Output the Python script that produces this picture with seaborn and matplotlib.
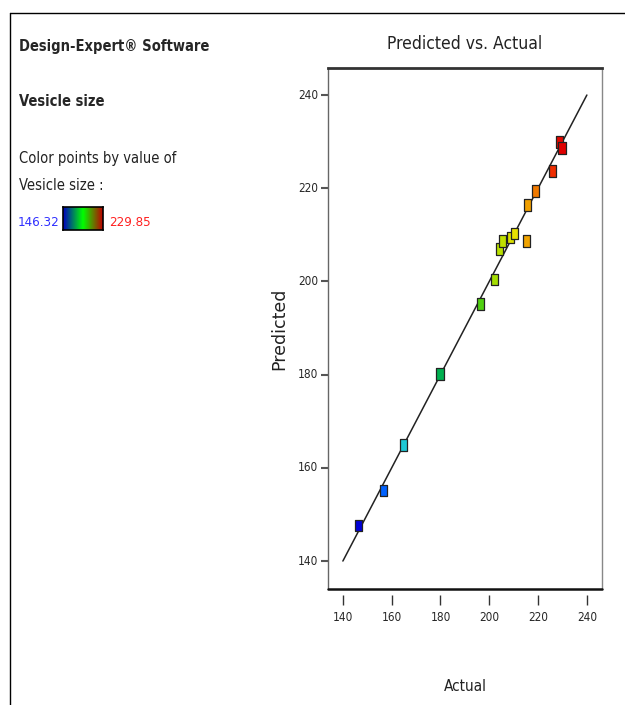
import numpy as np
import pandas as pd
import matplotlib
matplotlib.use("Agg")
import matplotlib.pyplot as plt
from matplotlib import font_manager as fm
from matplotlib.colors import LinearSegmentedColormap, Normalize
import seaborn as sns

# ---- data ----
actual = [146.3, 156.5, 165.0, 179.8, 196.4, 202.3, 204.3, 205.3, 208.7,
          210.5, 215.4, 215.8, 218.8, 225.9, 228.9, 229.8]
predicted = [147.6, 155.1, 164.9, 180.2, 195.2, 200.4, 206.9, 208.7, 209.4,
             210.3, 208.7, 216.4, 219.4, 223.7, 229.9, 228.6]
vmin, vmax = 146.32, 229.85
ticks = [140, 160, 180, 200, 220, 240]
line_ends = [140, 240]

df = pd.DataFrame({"Actual": actual, "Predicted": predicted})

sns.set_style("white")
plt.rcParams['font.family'] = ['DejaVu Sans']

# look for a condensed / narrow sans font
def find_font(bold=False):
    best = None
    for f in fm.fontManager.ttflist:
        nm = f.name
        st = str(f.stretch).lower()
        narrow = ('Narrow' in nm or 'Condensed' in nm or 'condensed' in st)
        if not narrow or 'Mono' in nm or 'Serif' in nm or f.style != 'normal':
            continue
        w = f.weight if isinstance(f.weight, int) else (700 if 'bold' in str(f.weight) else 400)
        if bold and w < 600:
            continue
        if not bold and w >= 600:
            continue
        best = f.fname
        if 'Liberation' in nm or 'DejaVu' in nm:
            break
    return best

reg_path = find_font(False)
bold_path = find_font(True)

def fp(size, bold=False):
    p = bold_path if bold else reg_path
    if p:
        return fm.FontProperties(fname=p, size=size)
    return fm.FontProperties(family='DejaVu Sans', size=size * 0.82,
                             weight='bold' if bold else 'normal')

cmap = LinearSegmentedColormap.from_list(
    "de", [(0.0, "#0000d8"), (0.12, "#0060ff"), (0.22, "#20c8d8"),
           (0.40, "#00b050"), (0.60, "#50d010"), (0.68, "#b0e000"),
           (0.77, "#e8e000"), (0.83, "#f0a000"), (0.95, "#f03000"),
           (1.0, "#e00000")])
norm = Normalize(vmin, vmax)

fig = plt.figure(figsize=(6.25, 7.05), dpi=100)

# outer frame
fig.add_artist(plt.Line2D([10/625, 10/625], [0, 1 - 13/705], color='black', lw=1))
fig.add_artist(plt.Line2D([10/625, 1], [1 - 13/705, 1 - 13/705], color='black', lw=1))

# left side texts
fig.text(19/625, 1 - 46/705, "Design-Expert® Software", fontproperties=fp(10.5, True), va='center')
fig.text(19/625, 1 - 101/705, "Vesicle size", fontproperties=fp(10.5, True), va='center')
fig.text(19/625, 1 - 158/705, "Color points by value of", fontproperties=fp(10.5), va='center', color='#222222')
fig.text(19/625, 1 - 185/705, "Vesicle size :", fontproperties=fp(10.5), va='center', color='#222222')
fig.text(59/625, 1 - 222/705, f"{vmin:.2f}", fontproperties=fp(9.5), va='center', ha='right', color='#3030ff')
fig.text(109/625, 1 - 222/705, f"{vmax:.2f}", fontproperties=fp(9.5), va='center', color='#ff2020')
cax = fig.add_axes([63/625, 1 - 230/705, 40/625, 23/705])
legcmap = LinearSegmentedColormap.from_list("leg", ["#0000c0", "#00ff00", "#c00000"])
cax.imshow(np.linspace(0, 1, 100)[None, :], aspect='auto', cmap=legcmap)
cax.set_xticks([]); cax.set_yticks([])
for s in cax.spines.values():
    s.set_linewidth(1.2); s.set_color('black'); s.set_visible(True)

# main axes
ax = fig.add_axes([328/625, 1 - 589/705, 274/625, 521/705])
for name, s in ax.spines.items():
    s.set_visible(True)
    s.set_color('#333333')
ax.spines['bottom'].set_position(('outward', 4.5))
ax.spines['bottom'].set_color('none')
ax.spines['top'].set_linewidth(2.0)
ax.spines['right'].set_linewidth(1.0)
ax.spines['right'].set_color('#888888')
ax.spines['left'].set_linewidth(1.0)
ax.spines['left'].set_color('#666666')

ax.plot(line_ends, line_ends, color='#222222', lw=1.1, zorder=1)
rect = [(-0.62, -1), (0.62, -1), (0.62, 1), (-0.62, 1), (-0.62, -1)]
sns.scatterplot(data=df, x="Actual", y="Predicted", hue="Actual", palette=cmap,
                hue_norm=norm, marker=rect, s=70, edgecolor='#222222',
                linewidth=0.9, legend=False, ax=ax, zorder=3)
ax.plot([0, 1], [0, 0], transform=ax.transAxes, color='#111111', lw=1.8, clip_on=False, zorder=5)

ax.set_xlim(133.9, 246.2)
ax.set_ylim(134.0, 245.8)
ax.set_xticks(ticks)
ax.set_yticks(ticks)
ax.set_xticklabels([str(t) for t in ticks], fontproperties=fp(8.5))
ax.set_yticklabels([str(t) for t in ticks], fontproperties=fp(8.5), va='center')
ax.tick_params(axis='x', bottom=True, top=False, direction='out', length=7, width=1,
               pad=4, color='#333333')
ax.tick_params(axis='y', left=True, right=False, direction='out', length=5, width=1.5,
               pad=2, color='#555555')

ax.set_title("Predicted vs. Actual", fontproperties=fp(12.5), pad=14, color='#222222')
ax.set_xlabel("Actual", fontproperties=fp(11), color='#222222')
ax.xaxis.set_label_coords(0.5, -0.172)
ax.set_ylabel("Predicted", fontsize=12.5, family=['DejaVu Sans'], color='#222222')
ax.yaxis.set_label_coords(-0.145, 0.5)

fig.savefig("out.png", dpi=100)
